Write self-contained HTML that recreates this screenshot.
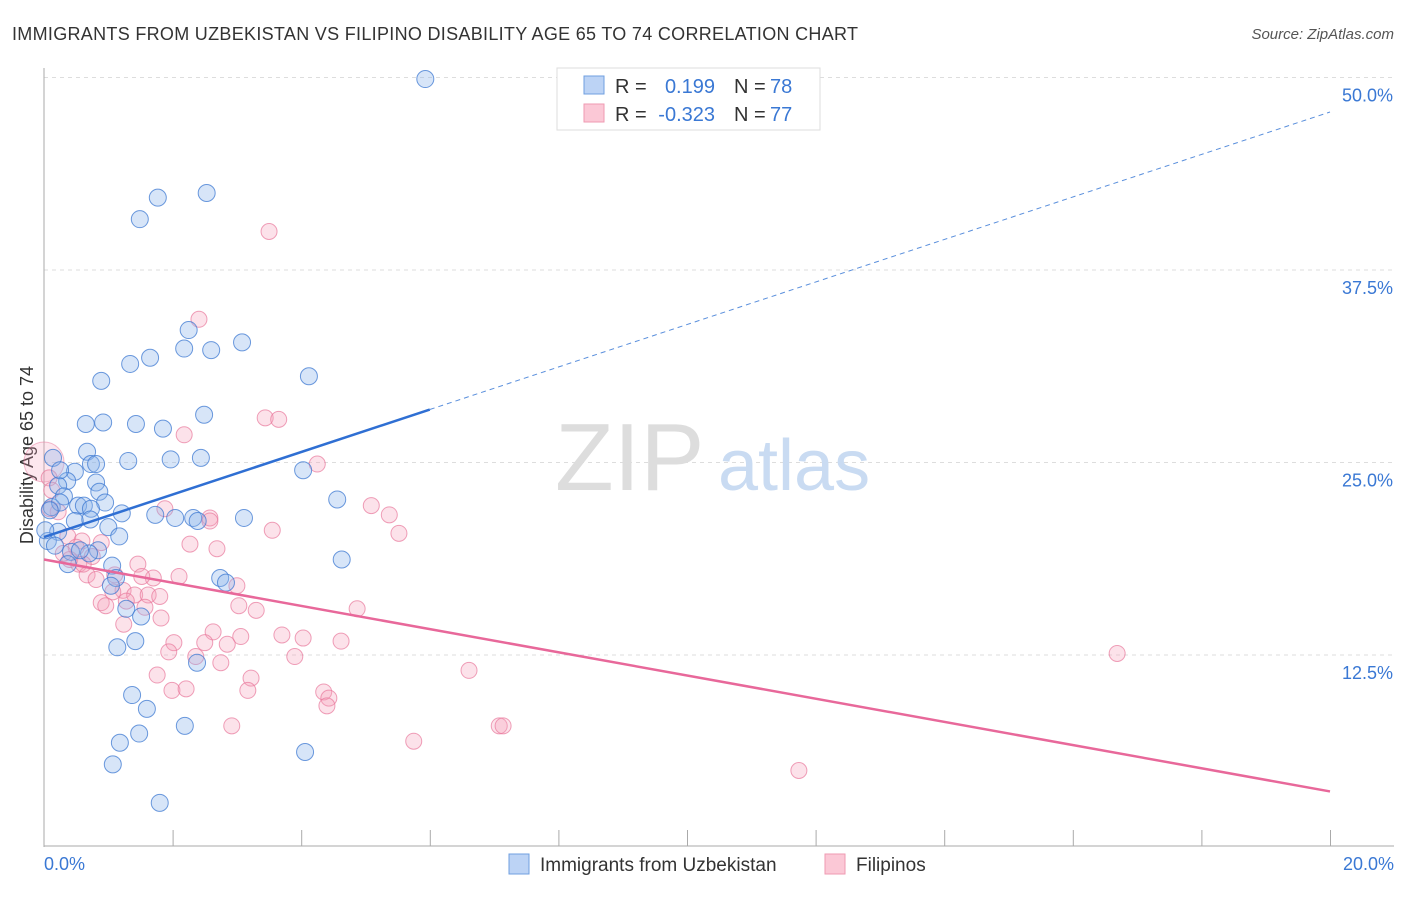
<!DOCTYPE html>
<html><head><meta charset="utf-8"><style>
body{margin:0;background:#fff;font-family:"Liberation Sans",sans-serif;}
svg text{font-family:"Liberation Sans",sans-serif;}
</style></head><body>
<svg id="chart" width="1406" height="892" xmlns="http://www.w3.org/2000/svg">
<text x="12" y="40" font-size="18" fill="#333" textLength="846">IMMIGRANTS FROM UZBEKISTAN VS FILIPINO DISABILITY AGE 65 TO 74 CORRELATION CHART</text>
<text x="1394" y="39" font-size="15" fill="#555" font-style="italic" text-anchor="end">Source: ZipAtlas.com</text>
<g id="grid"></g>
<text x="555" y="490" font-size="96" fill="#ddd" font-family="Liberation Serif">ZIP</text>
<text x="718" y="490" font-size="72" fill="#c9dbf2">atlas</text>
<text transform="translate(33,455) rotate(-90)" font-size="18" fill="#333" text-anchor="middle">Disability Age 65 to 74</text>
<g id="pts"></g>
<g id="lines"></g>
<g>
<rect x="557" y="68" width="263" height="62" fill="#fff" stroke="#ddd"/>
<rect x="584" y="76" width="20" height="18" fill="#bcd3f5" stroke="#6f9fe0"/>
<rect x="584" y="104" width="20" height="18" fill="#fbc8d6" stroke="#ef9ab2"/>
<text x="615" y="93" font-size="20" fill="#333">R = </text><text x="715" y="93" font-size="20" fill="#3a78d4" text-anchor="end">0.199</text>
<text x="734" y="93" font-size="20" fill="#333">N = </text><text x="770" y="93" font-size="20" fill="#3a78d4">78</text>
<text x="615" y="121" font-size="20" fill="#333">R = </text><text x="715" y="121" font-size="20" fill="#3a78d4" text-anchor="end">-0.323</text>
<text x="734" y="121" font-size="20" fill="#333">N = </text><text x="770" y="121" font-size="20" fill="#3a78d4">77</text>
</g>
<g>
<rect x="509" y="854" width="20" height="20" fill="#bcd3f5" stroke="#6f9fe0"/>
<text x="540" y="871" font-size="19" fill="#333">Immigrants from Uzbekistan</text>
<rect x="825" y="854" width="20" height="20" fill="#fbc8d6" stroke="#ef9ab2"/>
<text x="856" y="871" font-size="19" fill="#333">Filipinos</text>
</g>
<text x="44" y="870" font-size="18" fill="#3a78d4">0.0%</text>
<text x="1394" y="870" font-size="18" fill="#3a78d4" text-anchor="end">20.0%</text>
</svg>
<script>
const yTicks=[12.5,25,37.5,50];
const yTickLabels=["12.5%","25.0%","37.5%","50.0%"];
const blueX=[5.93,2.53,1.77,1.49,3.08,2.25,2.18,2.6,1.65,1.34,4.12,0.89,2.49,0.65,0.92,1.43,1.85,0.67,0.73,0.81,1.31,1.97,2.44,4.03,0.14,0.48,0.36,0.81,0.22,0.86,0.31,4.56,0.95,0.53,0.62,0.73,0.12,0.25,1.21,1.73,2.04,2.32,2.39,3.11,0.48,1.0,1.17,0.22,0.06,0.17,0.84,0.42,0.7,4.63,0.37,1.06,2.74,2.83,1.12,1.04,1.28,1.51,1.42,1.14,2.38,1.37,1.6,2.19,1.48,1.18,4.06,1.07,1.80,0.09,0.56,0.72,0.25,0.02];
const blueY=[49.9,42.5,42.2,40.8,32.8,33.6,32.4,32.3,31.8,31.4,30.6,30.3,28.1,27.5,27.6,27.5,27.2,25.7,24.9,24.9,25.1,25.2,25.3,24.5,25.3,24.4,23.8,23.7,23.5,23.1,22.8,22.6,22.4,22.2,22.2,22.0,22.1,22.4,21.7,21.6,21.4,21.4,21.2,21.4,21.2,20.8,20.2,20.5,19.9,19.6,19.3,19.2,19.1,18.7,18.4,18.3,17.5,17.2,17.5,17.0,15.5,15.0,13.4,13.0,12.0,9.9,9.0,7.9,7.4,6.8,6.2,5.4,2.9,21.9,19.3,21.3,24.5,20.6];
const pinkX=[3.5,2.41,3.44,3.65,2.18,4.25,0.08,0.12,5.09,5.37,1.88,2.58,5.52,3.55,0.22,0.37,0.59,0.5,0.89,2.27,2.69,0.4,0.54,0.75,1.46,0.67,0.81,1.1,1.7,2.1,3.0,1.23,1.07,1.41,1.62,1.28,1.8,0.89,0.96,3.03,3.3,1.57,4.87,1.82,1.24,2.63,3.7,3.06,4.03,4.62,2.02,2.5,2.85,1.94,2.36,2.75,3.9,6.61,1.76,3.22,1.99,2.21,3.17,4.35,4.43,4.4,2.92,7.08,7.14,5.75,11.74,16.69,0.3,0.09,2.58,1.52,0.61];
const pinkY=[40.0,34.3,27.9,27.8,26.8,24.9,24.0,23.2,22.2,21.6,22.0,21.4,20.4,20.6,21.8,20.2,19.9,19.5,19.8,19.7,19.4,18.7,18.4,18.9,18.4,17.7,17.4,17.7,17.5,17.6,17.0,16.7,16.6,16.4,16.4,16.0,16.3,15.9,15.7,15.7,15.4,15.6,15.5,14.9,14.5,14.0,13.8,13.7,13.6,13.4,13.3,13.3,13.2,12.7,12.4,12.0,12.4,11.5,11.2,11.0,10.2,10.3,10.2,10.1,9.7,9.2,7.9,7.9,7.9,6.9,5.0,12.6,19.1,22.0,21.2,17.6,18.4];
const blueFit=[20.16,1.38];   // intercept, slope per %
const pinkFit=[18.7,-0.753];
const X=v=>44+v*64.3, Y=v=>847.5-v*15.4;
const NS="http://www.w3.org/2000/svg";
function mk(t,a,p){const e=document.createElementNS(NS,t);for(const k in a)e.setAttribute(k,a[k]);p.appendChild(e);return e;}
const grid=document.getElementById('grid');
yTicks.forEach((t,i)=>{
  const l=mk('line',{x1:44,x2:1394,y1:Y(t),y2:Y(t),stroke:'#ddd','stroke-dasharray':'4,4'},grid);
  
  
  const tx=mk('text',{x:1393,y:Y(t)+24,'font-size':18,fill:'#3a78d4','text-anchor':'end'},grid);
  tx.textContent=yTickLabels[i];
  
  
});
const ax=mk('line',{x1:44,x2:44,y1:68,y2:847,stroke:'#aaa'},grid);


const bx=mk('line',{x1:44,x2:1394,y1:846,y2:846,stroke:'#aaa'},grid);


for(let i=1;i<=10;i++){const t=mk('line',{x1:X(i*2)+0.5,x2:X(i*2)+0.5,y1:830,y2:846,stroke:'#aaa'},grid);

}
const pts=document.getElementById('pts');
mk('circle',{cx:44,cy:462,r:20,fill:'rgba(246,160,186,0.25)',stroke:'rgba(232,120,155,0.5)'},pts);
pinkX.forEach((x,i)=>{const c=mk('circle',{cx:X(x),cy:Y(pinkY[i]),r:8,fill:'rgba(246,160,186,0.3)',stroke:'rgba(232,120,155,0.7)','stroke-width':1},pts);

});
blueX.forEach((x,i)=>{const c=mk('circle',{cx:X(x),cy:Y(blueY[i]),r:8.5,fill:'rgba(140,180,235,0.35)',stroke:'rgba(60,120,210,0.75)','stroke-width':1},pts);

});
const lines=document.getElementById('lines');
const bf=x=>blueFit[0]+blueFit[1]*x, pf=x=>pinkFit[0]+pinkFit[1]*x;
const b1=mk('line',{x1:X(0),y1:Y(bf(0)),x2:X(6),y2:Y(bf(6)),stroke:'#2f6fd3','stroke-width':2.5},lines);


const b2=mk('line',{x1:X(6),y1:Y(bf(6)),x2:X(20),y2:Y(bf(20)),stroke:'#5a8fdc','stroke-width':1,'stroke-dasharray':'5,4'},lines);


const p1=mk('line',{x1:X(0),y1:Y(pf(0)),x2:X(20),y2:Y(pf(20)),stroke:'#e8689a','stroke-width':2.5},lines);


</script>
</body></html>
